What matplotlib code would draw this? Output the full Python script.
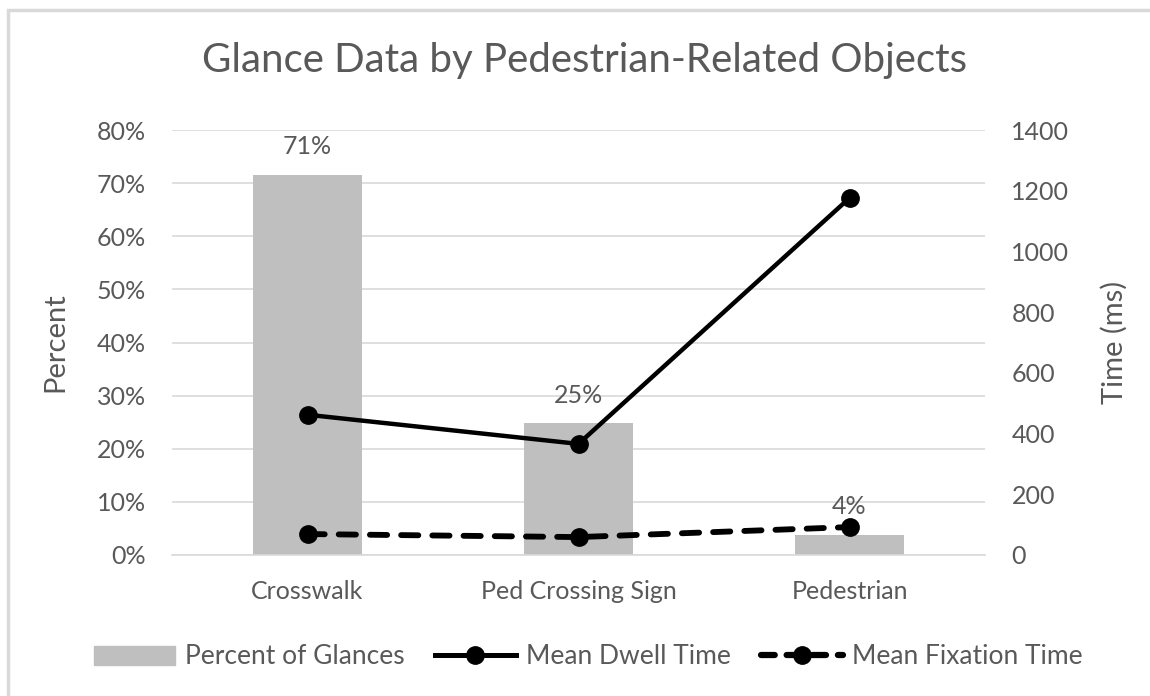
import matplotlib
matplotlib.use("Agg")
import matplotlib.pyplot as plt
from matplotlib.patches import Rectangle, Patch
from matplotlib.lines import Line2D
import numpy as np

categories = ["Crosswalk", "Ped Crossing Sign", "Pedestrian"]
percent_glances = [71.5, 24.8, 3.8]
bar_labels = ["71%", "25%", "4%"]
dwell_time = [462, 366, 1176]
fixation_time = [69, 59, 92]
left_ticks = [0, 10, 20, 30, 40, 50, 60, 70, 80]
right_ticks = [0, 200, 400, 600, 800, 1000, 1200, 1400]

plt.rcParams['font.family'] = ['Lato', 'DejaVu Sans']
TXT = '#595959'
FS = 18

fig = plt.figure(figsize=(11.5, 6.96), dpi=100)
fig.patches.append(Rectangle((8/1150, -0.1), 1.2, 1 - 10/696 + 0.1, transform=fig.transFigure,
                             fill=False, edgecolor='#d9d9d9', linewidth=2.5))

ax = fig.add_axes([172/1150, 1 - 555/696, 813/1150, 425/696])
x = np.arange(len(categories))
bars = ax.bar(x, percent_glances, width=0.4, color='#bfbfbf', zorder=2)
ax.set_xlim(-0.5, 2.5)
ax.set_ylim(0, 80)
ax.set_yticks(left_ticks)
ax.set_yticklabels([f"{t}%" for t in left_ticks])
ax.set_xticks(x)
ax.set_xticklabels(categories)
ax.grid(axis='y', color='#d9d9d9', linewidth=1.2, zorder=0)
ax.set_axisbelow(True)
for s in ['top', 'right', 'left']:
    ax.spines[s].set_visible(False)
ax.spines['bottom'].set_color('#d9d9d9')
ax.spines['bottom'].set_linewidth(1.2)
ax.tick_params(axis='both', length=0, labelsize=FS, labelcolor=TXT)
ax.tick_params(axis='y', pad=19)
ax.tick_params(axis='x', pad=18)
for b, lab in zip(bars, bar_labels):
    ax.annotate(lab, (b.get_x() + b.get_width()/2, b.get_height()), xytext=(0, 12),
                textcoords='offset points', ha='center', va='bottom', fontsize=FS, color=TXT)
ax.set_ylabel("Percent", fontsize=21, color=TXT)
ax.yaxis.set_label_coords((68 - 172)/813, 0.5)

ax2 = ax.twinx()
ax2.set_ylim(0, 1400)
ax2.set_yticks(right_ticks)
for s in ['top', 'right', 'left', 'bottom']:
    ax2.spines[s].set_visible(False)
ax2.tick_params(axis='y', length=0, labelsize=FS, labelcolor=TXT, pad=19)
ax2.set_ylabel("Time (ms)", fontsize=21, color=TXT)
ax2.yaxis.set_label_coords((1101 - 172)/813, 0.5)

ax2.plot(x, dwell_time, color='black', lw=3.2, marker='o', markersize=12.5, zorder=5)
ax2.plot(x, fixation_time, color='black', lw=4.2, marker='o', markersize=12.5,
         dashes=(2.95, 2.4), dash_capstyle='round', zorder=5)

fig.suptitle("Glance Data by Pedestrian-Related Objects", x=585/1150, y=1 - 42/696,
             fontsize=29, color=TXT, va='top')

handles = [Patch(color='#bfbfbf'),
           Line2D([], [], color='black', lw=3.6, marker='o', markersize=12.5),
           Line2D([], [], color='black', lw=4.5, marker='o', markersize=12.5, dashes=(2.2, 1.9),
                  dash_capstyle='round')]
labels = ["Percent of Glances", "Mean Dwell Time", "Mean Fixation Time"]
leg = fig.legend(handles, labels, loc='center', bbox_to_anchor=(588/1150, 1 - 657/696), ncol=3,
                 frameon=False, fontsize=19, labelcolor=TXT, handlelength=3.1, handletextpad=0.35,
                 columnspacing=1.15, handleheight=0.7)
fig.savefig("out.png", dpi=100)
